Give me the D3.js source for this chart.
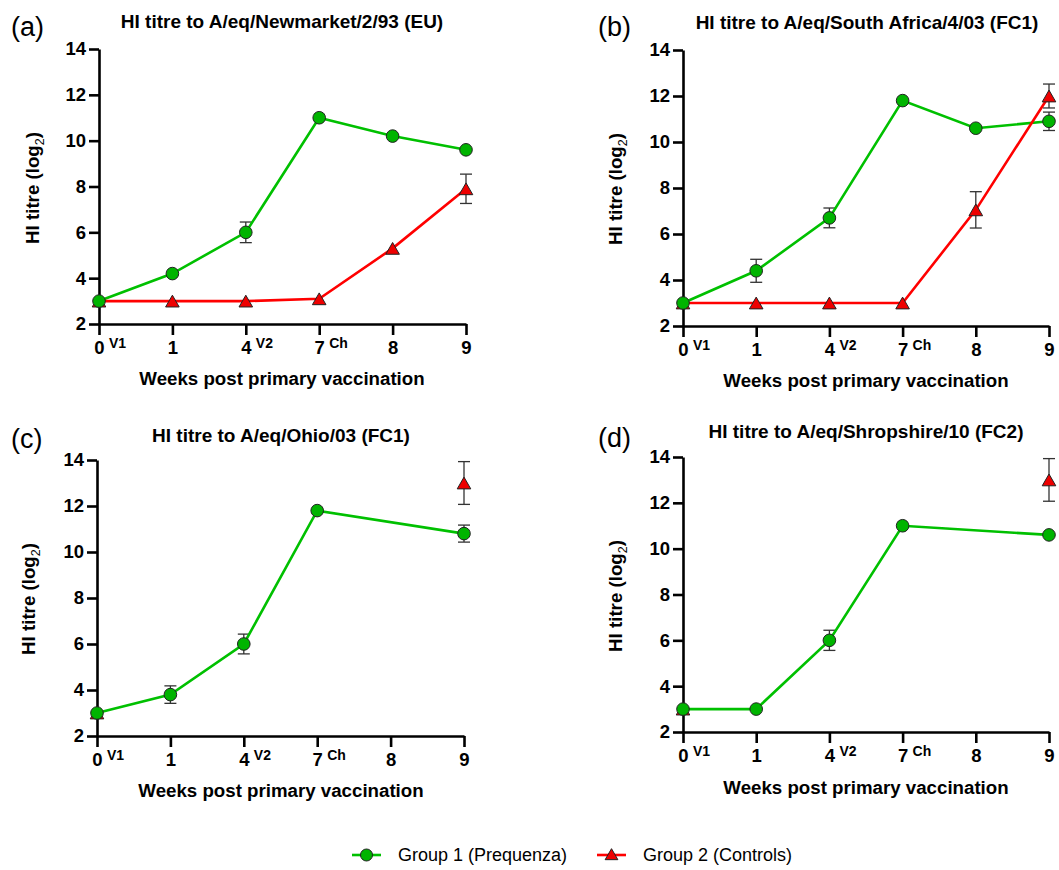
<!DOCTYPE html>
<html>
<head>
<meta charset="utf-8">
<script src="https://cdn.jsdelivr.net/npm/d3@7"></script>
<style>
  html, body { margin: 0; padding: 0; background: #fff; }
  svg { display: block; }
  text { font-family: "Liberation Sans", Arial, sans-serif; fill: #000; }
</style>
</head>
<body>
<svg id="chart" width="1059" height="870"></svg>
<script>
// ---- Data ----
const weeks = ["0", "1", "4", "7", "8", "9"];
const weekMarks = ["V1", "", "V2", "Ch", "", ""];
const yTicks = [2, 4, 6, 8, 10, 12, 14];

const panelLetters = ["(a)", "(b)", "(c)", "(d)"];
const panelTitles = [
  "HI titre to A/eq/Newmarket/2/93 (EU)",
  "HI titre to A/eq/South Africa/4/03 (FC1)",
  "HI titre to A/eq/Ohio/03 (FC1)",
  "HI titre to A/eq/Shropshire/10 (FC2)"
];
const seriesNames = ["Group 1 (Prequenza)", "Group 2 (Controls)"];

// Group 1 (Prequenza) means and SEM per panel
const g1a = [3, 4.2, 6.0, 11.0, 10.2, 9.6];
const g1aErr = [0, 0, 0.45, 0, 0, 0];
const g1b = [3, 4.4, 6.7, 11.8, 10.6, 10.9];
const g1bErr = [0, 0.5, 0.43, 0, 0, 0.4];
const g1c = [3, 3.8, 6.0, 11.8, null, 10.8];
const g1cErr = [0, 0.38, 0.43, 0, 0, 0.37];
const g1d = [3, 3, 6.0, 11.0, null, 10.6];
const g1dErr = [0, 0, 0.44, 0, 0, 0];

// Group 2 (Controls) means and SEM per panel
const g2a = [3, 3, 3, 3.1, 5.3, 7.9];
const g2aErr = [0, 0, 0, 0, 0, 0.64];
const g2b = [3, 3, 3, 3, 7.05, 12.0];
const g2bErr = [0, 0, 0, 0, 0.79, 0.52];
const g2c = [3, null, null, null, null, 13.0];
const g2cErr = [0, 0, 0, 0, 0, 0.93];
const g2d = [3, null, null, null, null, 13.0];
const g2dErr = [0, 0, 0, 0, 0, 0.93];

// ---- Layout (positions only) ----
const layout = [
  { x0: 99,  x1: 466,  yT: 49,  yB: 324, letter: [11, 36],   title: [282, 28],  ytitle: [39, 188],  xtitle: [282, 385] },
  { x0: 683, x1: 1049, yT: 50,  yB: 326, letter: [598, 36],  title: [867, 29],  ytitle: [622, 189], xtitle: [866, 387] },
  { x0: 97,  x1: 464,  yT: 460, yB: 736, letter: [11, 448],  title: [281, 442], ytitle: [35, 599],  xtitle: [281, 797] },
  { x0: 683, x1: 1049, yT: 457, yB: 732, letter: [598, 447], title: [866, 438], ytitle: [622, 596], xtitle: [866, 794] }
];

const panelData = [
  { g1: g1a, g1e: g1aErr, g2: g2a, g2e: g2aErr },
  { g1: g1b, g1e: g1bErr, g2: g2b, g2e: g2bErr },
  { g1: g1c, g1e: g1cErr, g2: g2c, g2e: g2cErr },
  { g1: g1d, g1e: g1dErr, g2: g2d, g2e: g2dErr }
];

const GREEN_LINE = "#00c000";
const GREEN_FILL = "#00b400";
const RED_LINE = "#ff0000";
const RED_FILL = "#ee0000";
const MARK_STROKE = "#222";
const ERR = "#333";
const FONT = '"Liberation Sans", Arial, sans-serif';

const svg = d3.select("#chart");
const TRI_SIZE = 80;
const triangle = d3.symbol().type(d3.symbolTriangle).size(TRI_SIZE);
// shift so the triangle's bounding box is centred on the data point
const triShift = Math.sqrt(TRI_SIZE / (3 * Math.sqrt(3))) / 2;

panelData.forEach((pd, i) => {
  const L = layout[i];
  const g = svg.append("g");
  const x = d3.scalePoint().domain(weeks).range([L.x0, L.x1]);
  const y = d3.scaleLinear().domain([2, 14]).range([L.yB, L.yT]);

  // panel letter
  g.append("text").attr("x", L.letter[0]).attr("y", L.letter[1])
    .style("font-size", "27px").text(panelLetters[i]);
  // title
  g.append("text").attr("x", L.title[0]).attr("y", L.title[1])
    .attr("text-anchor", "middle").style("font-size", "19px").style("font-weight", "bold")
    .text(panelTitles[i]);

  // y axis
  const ya = g.append("g").attr("transform", `translate(${L.x0},0)`)
    .call(d3.axisLeft(y).tickValues(yTicks).tickSize(10).tickSizeOuter(0).tickPadding(3).tickFormat(d3.format("d")));
  ya.select(".domain").attr("stroke", "#000").attr("stroke-width", 2.6);
  ya.selectAll(".tick line").attr("stroke", "#000").attr("stroke-width", 2.6);
  ya.selectAll(".tick text").style("font-size", "18.5px").style("font-weight", "bold")
    .style("font-family", FONT).attr("fill", "#000");

  // x axis
  const xa = g.append("g").attr("transform", `translate(0,${L.yB})`)
    .call(d3.axisBottom(x).tickSize(11).tickSizeOuter(0).tickPadding(6));
  xa.select(".domain").attr("stroke", "#000").attr("stroke-width", 2.6);
  xa.selectAll(".tick line").attr("stroke", "#000").attr("stroke-width", 2.6);
  xa.selectAll(".tick text").style("font-size", "18.5px").style("font-weight", "bold")
    .style("font-family", FONT).attr("fill", "#000");

  // superscript event marks
  weeks.forEach((w, k) => {
    if (!weekMarks[k]) return;
    g.append("text").attr("x", x(w) + 10).attr("y", L.yB + 24)
      .style("font-size", "14px").style("font-weight", "bold").text(weekMarks[k]);
  });

  // axis titles
  const yt = g.append("text")
    .attr("transform", `translate(${L.ytitle[0]},${L.ytitle[1]}) rotate(-90)`)
    .attr("text-anchor", "middle").style("font-size", "18.7px").style("font-weight", "bold");
  yt.append("tspan").text("HI titre (log");
  yt.append("tspan").attr("dy", 5).style("font-size", "12.5px").style("font-weight", "normal").text("2");
  yt.append("tspan").attr("dy", -5).text(")");

  g.append("text").attr("x", L.xtitle[0]).attr("y", L.xtitle[1])
    .attr("text-anchor", "middle").style("font-size", "18.7px").style("font-weight", "bold")
    .text("Weeks post primary vaccination");

  const pts = (vals, errs) => weeks.map((w, k) => ({ w, v: vals[k], e: errs[k] }));
  const p1 = pts(pd.g1, pd.g1e);
  const p2 = pts(pd.g2, pd.g2e);

  const line = d3.line().defined(d => d.v != null).x(d => x(d.w)).y(d => y(d.v));

  // error bars
  const drawErr = (p) => {
    p.filter(d => d.v != null && d.e > 0).forEach(d => {
      const cx = x(d.w);
      const y1 = y(d.v + d.e), y2 = y(d.v - d.e);
      g.append("line").attr("x1", cx).attr("x2", cx).attr("y1", y1).attr("y2", y2)
        .attr("stroke", ERR).attr("stroke-width", 1.3);
      [y1, y2].forEach(yy => g.append("line").attr("x1", cx - 6).attr("x2", cx + 6)
        .attr("y1", yy).attr("y2", yy).attr("stroke", ERR).attr("stroke-width", 1.3));
    });
  };
  drawErr(p1);
  drawErr(p2);

  // lines: Group 1 connects across missing weeks; Group 2 only joins consecutive weeks
  g.append("path").datum(p1.filter(d => d.v != null)).attr("d", line).attr("fill", "none")
    .attr("stroke", GREEN_LINE).attr("stroke-width", 2.6);
  g.append("path").datum(p2).attr("d", line).attr("fill", "none")
    .attr("stroke", RED_LINE).attr("stroke-width", 2.6);

  // markers
  g.selectAll(null).data(p2.filter(d => d.v != null)).enter().append("path")
    .attr("d", triangle)
    .attr("transform", d => `translate(${x(d.w)},${y(d.v) + triShift})`)
    .attr("fill", RED_FILL).attr("stroke", MARK_STROKE).attr("stroke-width", 1);
  g.selectAll(null).data(p1.filter(d => d.v != null)).enter().append("circle")
    .attr("cx", d => x(d.w)).attr("cy", d => y(d.v)).attr("r", 6.3)
    .attr("fill", GREEN_FILL).attr("stroke", MARK_STROKE).attr("stroke-width", 1);
});

// ---- Legend ----
const leg = svg.append("g");
const legItems = [
  { x: 352, name: seriesNames[0], color: GREEN_LINE, fill: GREEN_FILL, shape: "circle" },
  { x: 597, name: seriesNames[1], color: RED_LINE, fill: RED_FILL, shape: "triangle" }
];
legItems.forEach(it => {
  leg.append("line").attr("x1", it.x).attr("x2", it.x + 29).attr("y1", 855).attr("y2", 855)
    .attr("stroke", it.color).attr("stroke-width", 2.6);
  if (it.shape === "circle") {
    leg.append("circle").attr("cx", it.x + 14.5).attr("cy", 855).attr("r", 6)
      .attr("fill", it.fill).attr("stroke", MARK_STROKE).attr("stroke-width", 1);
  } else {
    leg.append("path").attr("d", d3.symbol().type(d3.symbolTriangle).size(70))
      .attr("transform", `translate(${it.x + 14.5},856)`)
      .attr("fill", it.fill).attr("stroke", MARK_STROKE).attr("stroke-width", 1);
  }
  leg.append("text").attr("x", it.x + 46).attr("y", 861).style("font-size", "18px").text(it.name);
});
</script>
</body>
</html>
